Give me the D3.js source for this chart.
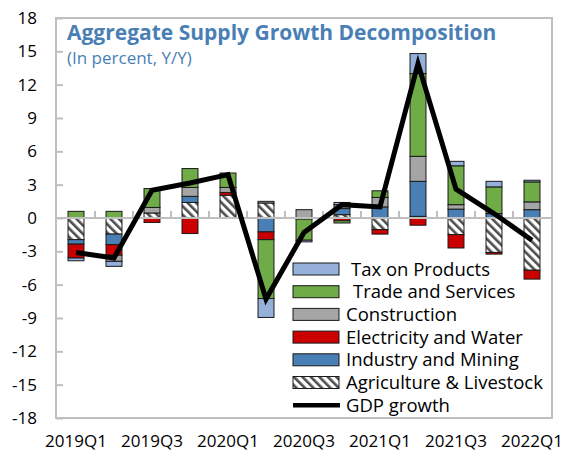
<!DOCTYPE html>
<html><head><meta charset="utf-8">
<script src="https://cdn.jsdelivr.net/npm/d3@7"></script>
<style>
html,body{margin:0;padding:0;background:#fff;}
svg{display:block;font-family:"Open Sans","Noto Sans",sans-serif;}
</style></head>
<body>
<svg id="chart" width="567" height="457"></svg>
<script>
const quarters = ["2019Q1","2019Q2","2019Q3","2019Q4","2020Q1","2020Q2","2020Q3","2020Q4","2021Q1","2021Q2","2021Q3","2021Q4","2022Q1"];
const agriculture  = [-1.95,-1.45, 0.45, 1.4, 2.05, 1.35, 0,    0.3, -1.05, 0.15,-1.5,-3.1,-4.7];
const industry     = [-0.4, -0.95, 0,    0.55,0,   -1.25,-0.1,  0.55, 1.0,  3.15, 0.8, 0.4, 0.75];
const electricity  = [-1.25,-0.95,-0.4, -1.4, 0.25,-0.7,  0,   -0.25,-0.4, -0.65,-1.2,-0.15,-0.8];
const construction = [0,    -0.55, 0.5,  0.8, 0.45, 0.15, 0.75, 0.35, 0.85, 2.25, 0.4, 0,   0.7];
const trade        = [0.6,   0.6,  1.7,  1.7, 1.3, -5.3, -1.9, -0.2,  0.6,  7.45, 3.5, 2.4, 1.8];
const tax          = [-0.25,-0.45, 0,    0,   0,   -1.7, -0.15, 0.2,  0,    1.8,  0.4, 0.5, 0.15];
const gdp          = [-3.1, -3.6,  2.5,  3.15,3.9, -7.3, -1.3,  1.2,  1.0, 13.9,  2.6, 0.4,-2.0];
const yTicks = [18,15,12,9,6,3,0,-3,-6,-9,-12,-15,-18];
const xLabels = ["2019Q1","2019Q3","2020Q1","2020Q3","2021Q1","2021Q3","2022Q1"];
const seriesNames = ["Agriculture & Livestock","Industry and Mining","Electricity and Water","Construction","Trade and Services","Tax on Products"];
const seriesKeys = ["agriculture","industry","electricity","construction","trade","tax"];
const seriesData = [agriculture, industry, electricity, construction, trade, tax];
const colors = {agriculture:"url(#hatch)", industry:"#4a7fb5", electricity:"#cc0000", construction:"#a5a5a5", trade:"#6fab46", tax:"#95b1da"};

const rows = quarters.map((q,i)=>{const o={q}; seriesKeys.forEach((k,j)=>o[k]=seriesData[j][i]); return o;});

const svg = d3.select("#chart");
const defs = svg.append("defs");
const pat = defs.append("pattern").attr("id","hatch").attr("patternUnits","userSpaceOnUse")
  .attr("width",6).attr("height",6).attr("patternTransform","rotate(-45)");
pat.append("rect").attr("width",6).attr("height",6).attr("fill","#fff");
pat.append("rect").attr("x",0).attr("y",0).attr("width",2.6).attr("height",6).attr("fill","#4d4d4d");

const x = d3.scaleBand().domain(quarters).range([57,551]).paddingInner(0.58).paddingOuter(0.29);
const y = d3.scaleLinear().domain([-18,18]).range([418,18]);

// plot border
svg.append("rect").attr("x",56).attr("y",y(18)).attr("width",496).attr("height",y(-18)-y(18))
  .attr("fill","none").attr("stroke","#bfbfbf").attr("stroke-width",2);

// y axis ticks inward
const yAxis = d3.axisRight(y).tickValues(yTicks).tickSize(7).tickFormat("");
svg.append("g").attr("transform","translate(56,0)").call(yAxis)
  .call(g=>{g.select(".domain").remove(); g.selectAll("line").attr("stroke","#bfbfbf").attr("stroke-width",2);});
svg.append("g").selectAll("text").data(yTicks).join("text")
  .attr("x",37).attr("y",d=>y(d)).attr("dy","0.36em").attr("text-anchor","end")
  .attr("font-size",17).attr("fill","#000").text(d=>d);

// stacked bars
const stack = d3.stack().keys(seriesKeys).offset(d3.stackOffsetDiverging);
const stacked = stack(rows);
const bw = x.bandwidth();
svg.append("g").selectAll("g").data(stacked).join("g")
  .attr("fill",d=>colors[d.key])
  .selectAll("rect").data(d=>d.filter(s=>Math.abs(s[1]-s[0])>1e-9)).join("rect")
  .attr("x",d=>x(d.data.q)).attr("width",bw)
  .attr("y",d=>y(Math.max(d[0],d[1]))).attr("height",d=>Math.abs(y(d[0])-y(d[1])))
  .attr("stroke","#1a1a1a").attr("stroke-width",1);

// zero axis with ticks at category boundaries
svg.append("line").attr("x1",56).attr("x2",552).attr("y1",y(0)).attr("y2",y(0))
  .attr("stroke","#bfbfbf").attr("stroke-width",2);
const bounds = quarters.slice(1).map(q=>x(q)-x.step()*x.paddingInner()/2);
svg.append("g").selectAll("line").data(bounds).join("line")
  .attr("x1",d=>d).attr("x2",d=>d).attr("y1",y(0)).attr("y2",y(0)-7)
  .attr("stroke","#bfbfbf").attr("stroke-width",2);

// x labels
svg.append("g").selectAll("text").data(xLabels).join("text")
  .attr("x",d=>x(d)+bw/2).attr("y",447).attr("text-anchor","middle")
  .attr("font-size",17).attr("fill","#000").text(d=>d);

// GDP line
const line = d3.line().x((d,i)=>x(quarters[i])+bw/2).y(d=>y(d));
svg.append("path").datum(gdp).attr("d",line).attr("fill","none")
  .attr("stroke","#000").attr("stroke-width",5).attr("stroke-linejoin","miter");

// title
svg.append("text").attr("x",67).attr("y",40).attr("font-size",21).attr("font-weight","bold")
  .attr("fill","#4a7fb5").text("Aggregate Supply Growth Decomposition");
svg.append("text").attr("x",67).attr("y",64).attr("font-size",17).attr("fill","#4a7fb5")
  .text("(In percent, Y/Y)");

// legend
const legendItems = seriesKeys.map((k,j)=>({key:k,name:seriesNames[j]})).reverse();
const lg = svg.append("g");
const rowY = i=>269 + i*22.7;
const textX = [351,353,346,346,346,346,346];
legendItems.forEach((it,i)=>{
  lg.append("rect").attr("x",293).attr("y",rowY(i)-6).attr("width",46).attr("height",12)
    .attr("fill",colors[it.key]).attr("stroke","#1a1a1a").attr("stroke-width",1);
  lg.append("text").attr("x",textX[i]).attr("y",rowY(i)).attr("dy","0.36em")
    .attr("font-size",18.5).attr("fill","#000").text(it.name);
});
lg.append("line").attr("x1",293).attr("x2",340).attr("y1",rowY(6)).attr("y2",rowY(6))
  .attr("stroke","#000").attr("stroke-width",4.5);
lg.append("text").attr("x",textX[6]).attr("y",rowY(6)).attr("dy","0.36em")
  .attr("font-size",18.5).attr("fill","#000").text("GDP growth");
</script>
</body></html>
